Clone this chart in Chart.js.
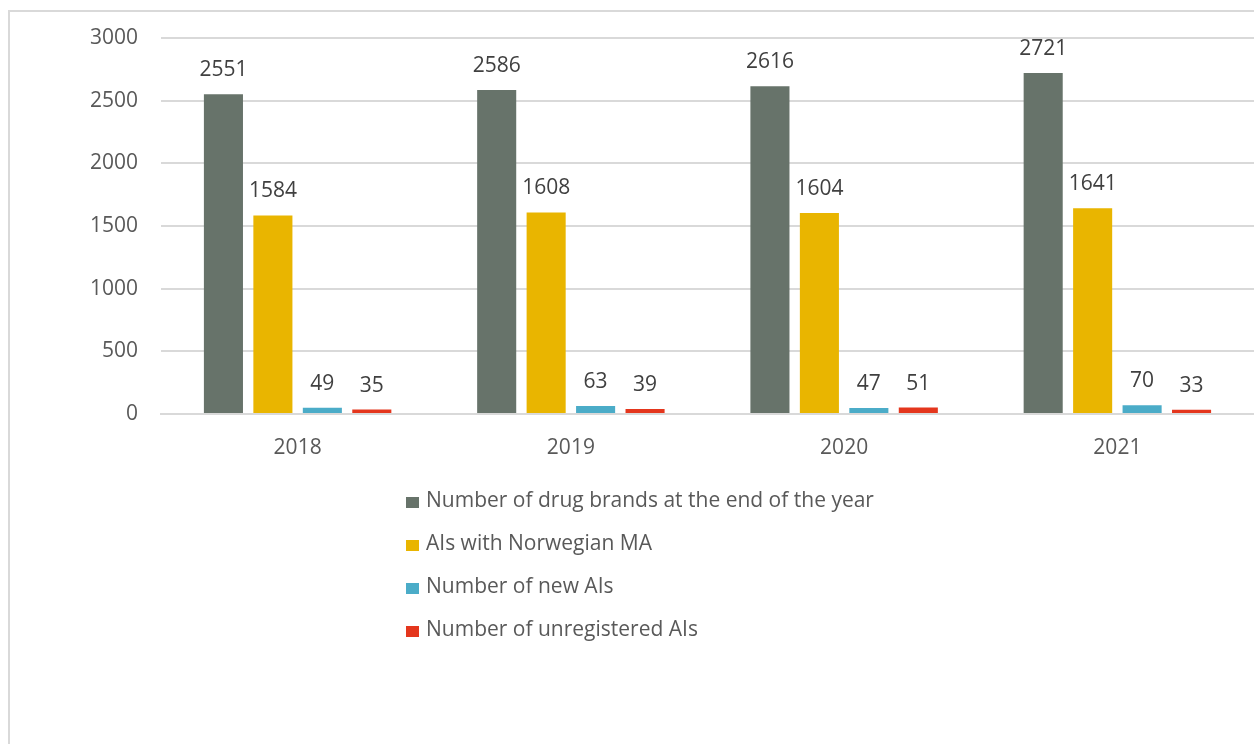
<!DOCTYPE html>
<html lang="en">
<head>
<meta charset="UTF-8">
<title>Drug brands and active ingredients</title>
<script src="https://cdn.jsdelivr.net/npm/chart.js@4.4.1/dist/chart.umd.min.js"></script>
<style>
  html, body { margin: 0; padding: 0; background: #fff; overflow: hidden; }
  .frame {
    position: absolute; left: 8px; top: 10px;
    width: 1300px; height: 800px;
    border: 2px solid #d9d9d9; box-sizing: border-box;
  }
  .wrap { position: absolute; left: 0; top: 0; width: 1254px; height: 744px; }
</style>
</head>
<body>
<div class="frame"></div>
<div class="wrap"><canvas id="chart"></canvas></div>
<script>
const years = ['2018', '2019', '2020', '2021'];
const drugBrands = [2551, 2586, 2616, 2721];
const aisNorwegianMA = [1584, 1608, 1604, 1641];
const newAIs = [49, 63, 47, 70];
const unregisteredAIs = [35, 39, 51, 33];
const yTicks = [0, 500, 1000, 1500, 2000, 2500, 3000];

const FONT = '"Open Sans", sans-serif';

// value above every bar
const barLabels = {
  id: 'barLabels',
  afterDatasetsDraw(chart) {
    const ctx = chart.ctx;
    ctx.save();
    ctx.font = '21px ' + FONT;
    ctx.fillStyle = '#404040';
    ctx.textAlign = 'center';
    ctx.textBaseline = 'middle';
    chart.data.datasets.forEach((ds, i) => {
      chart.getDatasetMeta(i).data.forEach((bar, j) => {
        ctx.fillText(ds.data[j], bar.x, bar.y - 24);
      });
    });
    ctx.restore();
  }
};

// one legend entry per line, like the original
const stackedLegend = {
  id: 'stackedLegend',
  afterDraw(chart) {
    const ctx = chart.ctx;
    const left = 406, top = 502, row = 43;
    ctx.save();
    ctx.font = '21px ' + FONT;
    ctx.textBaseline = 'middle';
    chart.data.datasets.forEach((ds, i) => {
      const y = top + i * row;
      ctx.fillStyle = ds.backgroundColor;
      ctx.fillRect(left, y - 5, 13, 11);
      ctx.fillStyle = '#595959';
      ctx.fillText(ds.label, left + 20, y - 1);
    });
    ctx.restore();
  }
};

new Chart(document.getElementById('chart'), {
  type: 'bar',
  data: {
    labels: years,
    datasets: [
      { label: 'Number of drug brands at the end of the year', data: drugBrands, backgroundColor: '#67736a' },
      { label: 'AIs with Norwegian MA', data: aisNorwegianMA, backgroundColor: '#e9b500' },
      { label: 'Number of new AIs', data: newAIs, backgroundColor: '#4bacc8' },
      { label: 'Number of unregistered AIs', data: unregisteredAIs, backgroundColor: '#e4361d' }
    ]
  },
  options: {
    responsive: true,
    maintainAspectRatio: false,
    animation: false,
    layout: { padding: { top: 38, right: 0, bottom: 0, left: 0 } },
    datasets: {
      bar: { categoryPercentage: 0.724, barPercentage: 0.79 }
    },
    plugins: {
      legend: { display: false },
      tooltip: { enabled: false }
    },
    scales: {
      x: {
        grid: { display: false },
        border: { color: '#d9d9d9', width: 2 },
        ticks: { color: '#595959', font: { family: FONT, size: 21 }, padding: 13 },
        afterFit: (axis) => { axis.height = 330; }
      },
      y: {
        min: 0,
        max: 3000,
        afterBuildTicks: (axis) => { axis.ticks = yTicks.map(v => ({ value: v })); },
        grid: { color: '#d9d9d9', lineWidth: 2, drawTicks: false },
        border: { display: false },
        ticks: {
          color: '#595959',
          font: { family: FONT, size: 21 },
          padding: 23,
          callback: (v) => String(v)
        },
        afterFit: (axis) => { axis.width = 161; }
      }
    }
  },
  plugins: [barLabels, stackedLegend]
});
</script>
</body>
</html>
